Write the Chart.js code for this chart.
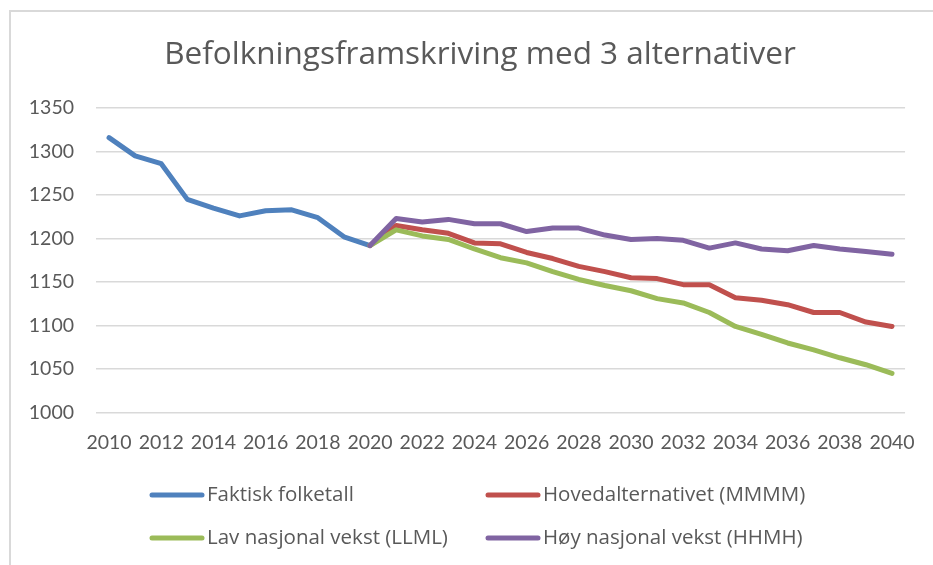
<!DOCTYPE html>
<html>
<head>
<meta charset="utf-8">
<script src="https://cdn.jsdelivr.net/npm/chart.js@4"></script>
<style>
    html, body { margin: 0; padding: 0; background: #fff; }
    #wrap { position: relative; width: 933px; height: 565px; }
    #frame { position: absolute; left: 9px; top: 10px; right: 0; bottom: 0; border-left: 2px solid #d9d9d9; border-top: 2px solid #d9d9d9; }
    canvas { position: absolute; left: 0; top: 0; }
</style>
</head>
<body>
<div id="wrap">
    <div id="frame"></div>
    <canvas id="popChart" width="933" height="565"></canvas>
</div>
<script>
// Years on the x axis
const years = ['2010','2011','2012','2013','2014','2015','2016','2017','2018','2019','2020',
    '2021','2022','2023','2024','2025','2026','2027','2028','2029','2030',
    '2031','2032','2033','2034','2035','2036','2037','2038','2039','2040'];

// Actual population 2010-2020
const faktisk = [1316, 1295, 1286, 1245, 1235, 1226, 1232, 1233, 1224, 1202, 1192];
// Projections 2020-2040
const hoved = [1192, 1215, 1210, 1206, 1195, 1194, 1184, 1177, 1168, 1162, 1155,
    1154, 1147, 1147, 1132, 1129, 1124, 1115, 1115, 1104, 1099];
const lav = [1192, 1210, 1203, 1199, 1188, 1178, 1172, 1162, 1153, 1146, 1140,
    1131, 1126, 1115, 1099, 1090, 1080, 1072, 1063, 1055, 1045];
const hoy = [1192, 1223, 1219, 1222, 1217, 1217, 1208, 1212, 1212, 1204, 1199,
    1200, 1198, 1189, 1195, 1188, 1186, 1192, 1188, 1185, 1182];

const seriesNames = ['Faktisk folketall', 'Hovedalternativet (MMMM)', 'Lav nasjonal vekst (LLML)', 'Høy nasjonal vekst (HHMH)'];
const seriesColors = ['#4F81BD', '#C0504D', '#9BBB59', '#8064A2'];
const chartTitle = 'Befolkningsframskriving med 3 alternativer';

const textColor = '#595959';
const fontFamily = 'Lato, "Open Sans", sans-serif';
const wideFont = '"Open Sans", Lato, sans-serif';

// pad series so they line up with the year labels
function fromStart(arr) {
    return arr.concat(new Array(years.length - arr.length).fill(null));
}
function fromEnd(arr) {
    return new Array(years.length - arr.length).fill(null).concat(arr);
}

// title centred over the plot + legend laid out as a 2x2 grid under it
const titleAndLegend = {
    id: 'titleAndLegend',
    afterDraw(chart) {
        const ctx = chart.ctx;
        ctx.save();
        ctx.fillStyle = textColor;
        ctx.textAlign = 'center';
        ctx.textBaseline = 'middle';
        ctx.font = '31.5px ' + wideFont;
        ctx.fillText(chartTitle, 480, 55);

        const colX = [150, 486];
        const rowY = [495, 538];
        ctx.textAlign = 'left';
        ctx.font = '20.5px ' + wideFont;
        ctx.lineCap = 'round';
        chart.data.datasets.forEach((ds, i) => {
            const x = colX[i % 2];
            const y = rowY[Math.floor(i / 2)];
            ctx.strokeStyle = ds.borderColor;
            ctx.lineWidth = 5;
            ctx.beginPath();
            ctx.moveTo(x + 2, y);
            ctx.lineTo(x + 52, y);
            ctx.stroke();
            ctx.fillStyle = textColor;
            ctx.fillText(ds.label, x + 57, y);
        });
        ctx.restore();
    }
};

const seriesData = [fromStart(faktisk), fromEnd(hoved), fromEnd(lav), fromEnd(hoy)];

const ctx = document.getElementById('popChart').getContext('2d');
new Chart(ctx, {
    type: 'line',
    data: {
        labels: years,
        datasets: seriesData.map((d, i) => ({
            label: seriesNames[i],
            data: d,
            borderColor: seriesColors[i],
            backgroundColor: seriesColors[i],
            borderWidth: 5,
            borderCapStyle: 'round',
            borderJoinStyle: 'round',
            pointRadius: 0,
            tension: 0,
            spanGaps: false,
            order: 4 - i
        }))
    },
    options: {
        responsive: false,
        animation: false,
        layout: { padding: { left: 0, right: 23, top: 108, bottom: 93 } },
        plugins: {
            legend: { display: false },
            tooltip: { enabled: false },
            title: { display: false }
        },
        scales: {
            x: {
                offset: true,
                grid: { display: false, drawTicks: false },
                border: { display: false },
                ticks: {
                    color: textColor,
                    font: { family: fontFamily, size: 19.5 },
                    autoSkip: false,
                    maxRotation: 0,
                    padding: 18,
                    callback: (v, i) => (i % 2 === 0 ? years[i] : '')
                }
            },
            y: {
                min: 1000,
                max: 1350,
                grid: { color: '#d9d9d9', lineWidth: 1.5, drawTicks: false },
                border: { display: false },
                ticks: {
                    stepSize: 50,
                    color: textColor,
                    font: { family: fontFamily, size: 19.5 },
                    padding: 22,
                    callback: (v) => String(v)
                },
                afterFit: (scale) => { scale.width = 96; }
            }
        }
    },
    plugins: [titleAndLegend]
});
</script>
</body>
</html>
